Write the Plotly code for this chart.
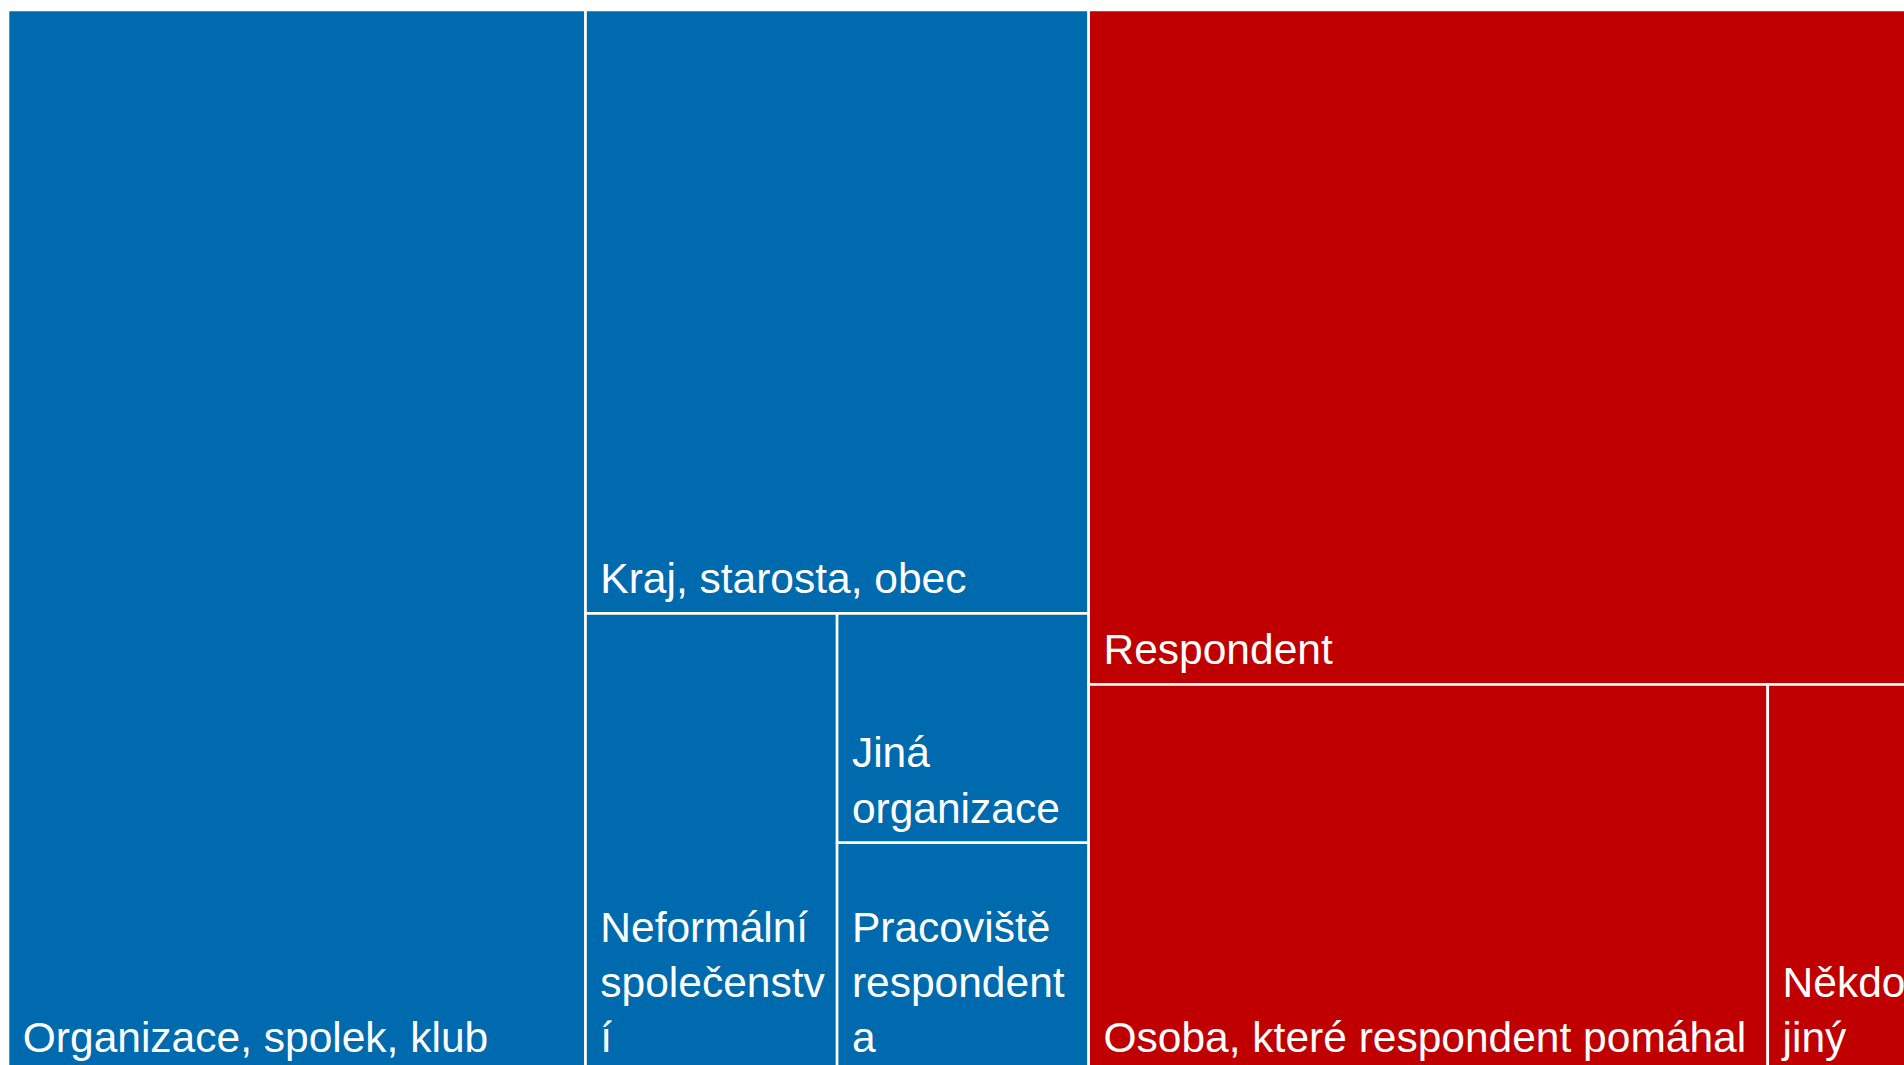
import plotly.graph_objects as go

# groups (not labelled in the chart) and their leaf categories
groups = ["Instituce", "Jednotlivci"]
group_colors = ["#006AAE", "#C00000"]

labels = [
    "Organizace, spolek, klub",
    "Kraj, starosta, obec",
    "Neformální společenství",
    "Jiná organizace",
    "Pracoviště respondenta",
    "Respondent",
    "Osoba, které respondent pomáhal",
    "Někdo jiný",
]
# tile text as it wraps in the chart
label_lines = [
    ["Organizace, spolek, klub"],
    ["Kraj, starosta, obec"],
    ["Neformální", "společenstv", "í"],
    ["Jiná", "organizace"],
    ["Pracoviště", "respondent", "a"],
    ["Respondent"],
    ["Osoba, které respondent pomáhal"],
    ["Někdo", "jiný"],
]
group_of = ["Instituce"] * 5 + ["Jednotlivci"] * 3
values = [30.3, 15.0, 5.7, 2.85, 2.85, 27.5, 13.0, 2.8]

ids = groups + labels
parents = ["", ""] + group_of
vals = [sum(v for v, g in zip(values, group_of) if g == grp) for grp in groups] + values

# a leading space for left padding, and a tall blank at the end for bottom padding
pad_end = '<span style="font-size:78px">\u00a0</span>'
texts = ["", ""] + ["<br>".join("\u00a0" + ln for ln in lines) + pad_end
                    for lines in label_lines]
colors = group_colors + [group_colors[groups.index(g)] for g in group_of]

fig = go.Figure(go.Treemap(
    ids=ids,
    labels=ids,
    parents=parents,
    values=vals,
    branchvalues="total",
    text=texts,
    texttemplate="%{text}",
    textposition="bottom left",
    textfont=dict(family="Liberation Sans, Arial, sans-serif", size=42.5, color="white"),
    marker=dict(colors=colors, line=dict(color="white", width=2.6),
                pad=dict(t=0, l=0, r=0, b=0)),
    tiling=dict(pad=0),
    pathbar=dict(visible=False),
    sort=True,
    hoverinfo="label+value",
))

# the chart runs past the right and bottom edges of the window
fig.update_layout(
    width=1914,
    height=1072,
    margin=dict(l=8, r=0, t=10, b=0),
    paper_bgcolor="white",
    uniformtext=dict(minsize=42.5, mode="show"),
)

fig.write_html(
    "out.html",
    config={"displayModeBar": False},
    post_script="document.body.style.margin='0';"
                "document.documentElement.style.overflow='hidden';",
)
